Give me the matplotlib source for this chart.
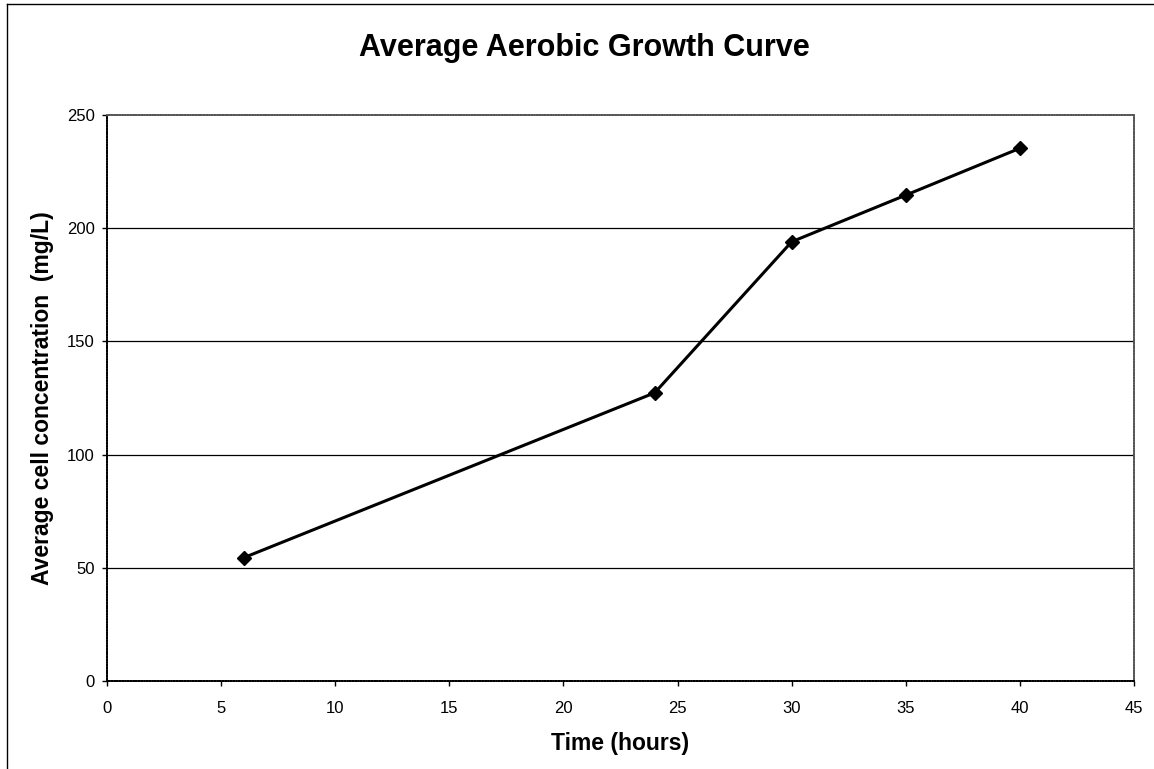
import numpy as np
import matplotlib.pyplot as plt
from matplotlib.lines import Line2D

hours = [6, 24, 30, 35, 40]
conc = [54.5, 127.3, 194.0, 214.6, 235.3]
xticks = [0, 5, 10, 15, 20, 25, 30, 35, 40, 45]
yticks = [0, 50, 100, 150, 200, 250]

plt.rcParams['font.family'] = ['Liberation Sans', 'DejaVu Sans']

fig = plt.figure(figsize=(11.54, 7.69), dpi=100)
ax = fig.add_axes([0.0927, 0.1144, 0.8900, 0.7361])

for v in yticks[1:-1]:
    ax.axhline(v, color='black', linewidth=0.9, zorder=1)

ax.plot(hours, conc, color='black', linewidth=2.2, marker='D', markersize=7, zorder=3)

ax.set_xlim(0, 45)
ax.set_ylim(0, 250)
ax.set_xticks(xticks)
ax.set_yticks(yticks)
ax.tick_params(direction='out', length=3.8, width=1, labelsize=12)
ax.tick_params(axis='x', pad=10.5)
ax.tick_params(axis='y', pad=5)
for s in ax.spines.values():
    s.set_color('#555555')
    s.set_linestyle((0, (1, 0.5)))
    s.set_linewidth(1.3)
ax.spines['bottom'].set_color('black')
ax.spines['left'].set_color('black')

ax.set_xlabel('Time (hours)', fontsize=16.5, fontweight='bold')
ax.xaxis.label.set_va('baseline')
ax.xaxis.set_label_coords(0.5, -0.122)
ax.set_ylabel('Average cell concentration  (mg/L)', fontsize=16.5, fontweight='bold')
ax.yaxis.label.set_va('center')
ax.yaxis.set_label_coords(-0.063, 0.5)

fig.text(0.506, 1 - 56/769, 'Average Aerobic Growth Curve', fontsize=22, fontweight='bold',
         ha='center', va='baseline')

# outer chart frame (only top and left edges visible in the crop)
fig.add_artist(Line2D([7/1154, 7/1154], [0, 1 - 4/769], transform=fig.transFigure, color='black', linewidth=1))
fig.add_artist(Line2D([7/1154, 1], [1 - 4/769, 1 - 4/769], transform=fig.transFigure, color='black', linewidth=1))

fig.savefig('out.png', dpi=100)
